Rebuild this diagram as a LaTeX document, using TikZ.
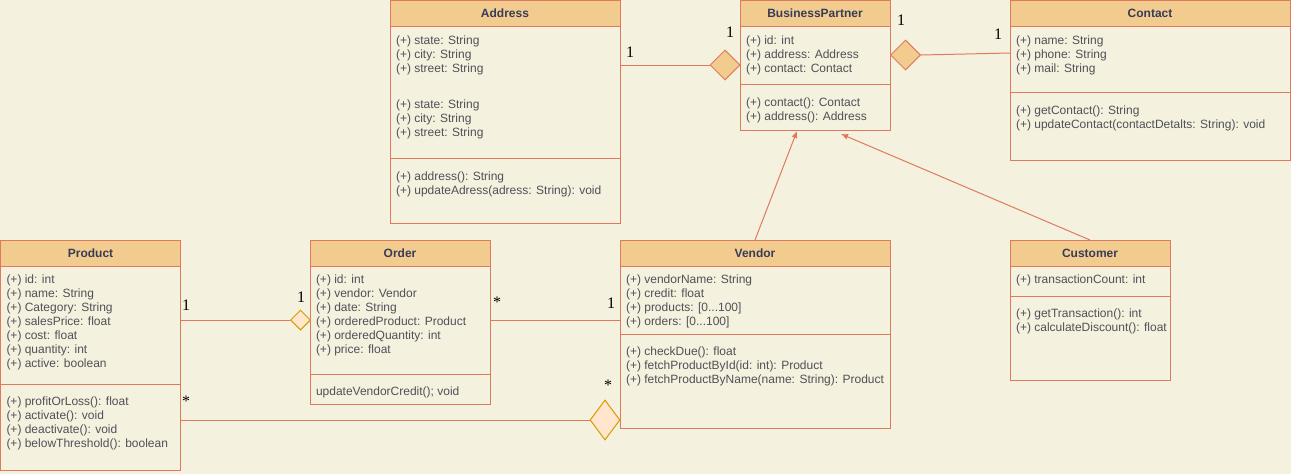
\documentclass[tikz,border=0pt]{standalone}
\usepackage{fontspec}
\setmainfont{Liberation Sans}
\newfontfamily\multfont{Liberation Serif}
\usepackage{tikz}
\usetikzlibrary{positioning}
\usetikzlibrary{shapes.geometric}
\usetikzlibrary{arrows.meta}
\definecolor{paper}{HTML}{F4F1DE}
\definecolor{umlhead}{HTML}{F2CC8F}
\definecolor{umlline}{HTML}{E07A5F}
\definecolor{ink}{HTML}{393C56}
\definecolor{attr}{HTML}{505058}
\definecolor{hollowfill}{HTML}{FFE6CC}
\definecolor{hollowline}{HTML}{D79B00}
\tikzset{
  head/.style={draw=umlline, fill=umlhead, line width=1pt, outer sep=0pt, minimum height=26pt, inner sep=0pt, font=\bfseries\fontsize{12}{14}\selectfont, text=ink},
  part/.style={draw=umlline, fill=paper, line width=1pt, outer sep=0pt, inner sep=0pt},
  members/.style={anchor=north west, align=left, inner sep=0pt, outer sep=0pt, font=\fontsize{12}{14}\selectfont, text=attr},
  mult/.style={font=\multfont\fontsize{16}{16}\selectfont, inner sep=0pt},
  agg/.style={diamond, draw=umlline, fill=umlhead, line width=1pt, inner sep=0pt},
  hollow/.style={agg, draw=hollowline, fill=hollowfill},
  assoc/.style={draw=umlline, line width=1pt},
  gen/.style={assoc, -{Latex[length=7pt,width=6pt]}}
}

\begin{document}
\begin{tikzpicture}[x=1pt, y=-1pt]
    \path[use as bounding box, fill=paper] (0,0) rectangle (1291,474);

    % classes
    \node[head, minimum width=230pt, anchor=north west] at (390,0.5) (address-h) {Address};
    \node[part, minimum width=230pt, minimum height=132pt, below=0pt of address-h] (address-a) {};
    \node[part, minimum width=230pt, minimum height=65pt, below=0pt of address-a] (address-m) {};
    \node[members, below right=9pt and 6pt of address-a.north west] (address-at) {(+) state: String\\(+) city: String\\(+) street: String\\[22pt](+) state: String\\(+) city: String\\(+) street: String};
    \node[members, below right=13pt and 6pt of address-m.north west] (address-mt) {(+) address(): String\\(+) updateAdress(adress: String): void};

    \node[head, minimum width=150pt, anchor=north west] at (740,0.5) (partner-h) {BusinessPartner};
    \node[part, minimum width=150pt, minimum height=58pt, below=0pt of partner-h] (partner-a) {};
    \node[part, minimum width=150pt, minimum height=46pt, below=0pt of partner-a] (partner-m) {};
    \node[members, below right=9pt and 6pt of partner-a.north west] (partner-at) {(+) id: int\\(+) address: Address\\(+) contact: Contact};
    \node[members, below right=13pt and 6pt of partner-m.north west] (partner-mt) {(+) contact(): Contact\\(+) address(): Address};

    \node[head, minimum width=280pt, anchor=north west] at (1010,0.5) (contact-h) {Contact};
    \node[part, minimum width=280pt, minimum height=66pt, below=0pt of contact-h] (contact-a) {};
    \node[part, minimum width=280pt, minimum height=68pt, below=0pt of contact-a] (contact-m) {};
    \node[members, below right=9pt and 6pt of contact-a.north west] (contact-at) {(+) name: String\\(+) phone: String\\(+) mail: String};
    \node[members, below right=13pt and 6pt of contact-m.north west] (contact-mt) {(+) getContact(): String\\(+) updateContact(contactDetalts: String): void};

    \node[head, minimum width=180pt, anchor=north west] at (0.5,240) (product-h) {Product};
    \node[part, minimum width=180pt, minimum height=118pt, below=0pt of product-h] (product-a) {};
    \node[part, minimum width=180pt, minimum height=86pt, below=0pt of product-a] (product-m) {};
    \node[members, below right=9pt and 6pt of product-a.north west] (product-at) {(+) id: int\\(+) name: String\\(+) Category: String\\(+) salesPrice: float\\(+) cost: float\\(+) quantity: int\\(+) active: boolean};
    \node[members, below right=13pt and 6pt of product-m.north west] (product-mt) {(+) profitOrLoss(): float\\(+) activate(): void\\(+) deactivate(): void\\(+) belowThreshold(): boolean};

    \node[head, minimum width=180pt, anchor=north west] at (310,240) (order-h) {Order};
    \node[part, minimum width=180pt, minimum height=108pt, below=0pt of order-h] (order-a) {};
    \node[part, minimum width=180pt, minimum height=30pt, below=0pt of order-a] (order-m) {};
    \node[members, below right=9pt and 6pt of order-a.north west] (order-at) {(+) id: int\\(+) vendor: Vendor\\(+) date: String\\(+) orderedProduct: Product\\(+) orderedQuantity: int\\(+) price: float};
    \node[members, below right=13pt and 6pt of order-m.north west] (order-mt) {updateVendorCredit(); void};

    \node[head, minimum width=270pt, anchor=north west] at (620,240) (vendor-h) {Vendor};
    \node[part, minimum width=270pt, minimum height=68pt, below=0pt of vendor-h] (vendor-a) {};
    \node[part, minimum width=270pt, minimum height=94pt, below=0pt of vendor-a] (vendor-m) {};
    \node[members, below right=9pt and 6pt of vendor-a.north west] (vendor-at) {(+) vendorName: String\\(+) credit: float\\(+) products: [0...100]\\(+) orders: [0...100]};
    \node[members, below right=13pt and 6pt of vendor-m.north west] (vendor-mt) {(+) checkDue(): float\\(+) fetchProductById(id: int): Product\\(+) fetchProductByName(name: String): Product};

    \node[head, minimum width=160pt, anchor=north west] at (1010,240) (customer-h) {Customer};
    \node[part, minimum width=160pt, minimum height=30pt, below=0pt of customer-h] (customer-a) {};
    \node[part, minimum width=160pt, minimum height=84pt, below=0pt of customer-a] (customer-m) {};
    \node[members, below right=9pt and 6pt of customer-a.north west] (customer-at) {(+) transactionCount: int};
    \node[members, below right=13pt and 6pt of customer-m.north west] (customer-mt) {(+) getTransaction(): int\\(+) calculateDiscount(): float};

    % aggregations
    \node[agg, minimum width=30pt, minimum height=30pt] at (725,65) (d-addr) {};
    \node[agg, minimum width=30pt, minimum height=30pt] at (905.5,55) (d-cont) {};
    \node[hollow, minimum width=20pt, minimum height=20pt] at (300.5,320) (d-ord) {};
    \node[hollow, minimum width=30pt, minimum height=40pt] at (605,420) (d-vend) {};
    \coordinate (cont-in) at (1010,53);
    \coordinate (gen-v) at (797,131);
    \coordinate (gen-c) at (841,134);

    \draw (address-a.east |- d-addr) edge[assoc] (d-addr.west);
    \draw (d-cont.east) edge[assoc] (cont-in);
    \draw (product-a.east |- d-ord) edge[assoc] (d-ord.west);
    \draw (order-a.east) edge[assoc] (vendor-a.west |- order-a.east);
    \draw (product-m.east |- d-vend) edge[assoc] (d-vend.west);
    \draw (vendor-h.north) edge[gen] (gen-v);
    \draw (customer-h.north) edge[gen] (gen-c);

    % multiplicities
    \node[mult] at (630,52) (m-addr1) {1};
    \node[mult] at (730,32) (m-addr2) {1};
    \node[mult] at (901,20) (m-part) {1};
    \node[mult] at (998,34) (m-cont) {1};
    \node[mult] at (186,305) (m-prod1) {1};
    \node[mult] at (301,297) (m-ord1) {1};
    \node[mult] at (497,302) (m-ord2) {*};
    \node[mult] at (611,303) (m-vend1) {1};
    \node[mult] at (186,401) (m-prod2) {*};
    \node[mult] at (608,385) (m-vend2) {*};
\end{tikzpicture}
\end{document}
